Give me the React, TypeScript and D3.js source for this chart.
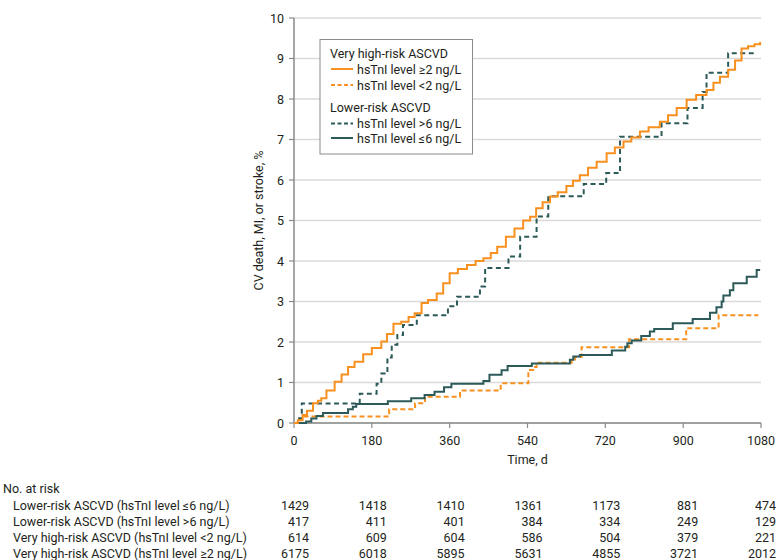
import React from "react";
import * as d3 from "d3";

const xTicks = [0, 180, 360, 540, 720, 900, 1080];
const yTicks = [0, 1, 2, 3, 4, 5, 6, 7, 8, 9, 10];

// [day, cumulative %]
const veryHighGe2: [number, number][] = [
  [0, 0], [9, 0.07], [20, 0.2], [30, 0.3], [44, 0.49], [55, 0.55], [63, 0.61], [75, 0.8],
  [94, 1.02], [110, 1.2], [125, 1.38], [140, 1.51], [160, 1.7], [180, 1.85], [202, 2.01],
  [215, 2.2], [230, 2.45], [248, 2.5], [265, 2.62], [279, 2.71], [295, 2.96], [310, 3.04],
  [330, 3.2], [345, 3.45], [360, 3.7], [379, 3.8], [400, 3.9], [420, 4.0], [438, 4.07],
  [455, 4.2], [470, 4.35], [490, 4.6], [510, 4.8], [530, 5.0], [546, 5.09], [560, 5.3],
  [575, 5.45], [592, 5.59], [610, 5.7], [630, 5.85], [645, 5.98], [661, 6.12], [680, 6.3],
  [700, 6.45], [723, 6.66], [742, 6.8], [762, 6.95], [780, 7.05], [800, 7.2], [820, 7.3],
  [846, 7.44], [865, 7.6], [885, 7.78], [908, 7.98], [930, 8.1], [954, 8.22], [970, 8.4],
  [985, 8.55], [1004, 8.72], [1020, 8.95], [1035, 9.25], [1050, 9.3], [1065, 9.35], [1078, 9.41],
];

const veryHighLt2: [number, number][] = [
  [0, 0], [8, 0.05], [13, 0.1], [18, 0.16], [220, 0.34], [280, 0.49], [303, 0.65], [384, 0.8],
  [478, 0.98], [542, 1.31], [553, 1.38], [561, 1.49], [642, 1.57], [650, 1.63], [665, 1.87],
  [775, 2.07], [907, 2.34], [982, 2.66], [1074, 2.66],
];

const lowerGt6: [number, number][] = [
  [0, 0], [12, 0.12], [18, 0.48], [152, 0.72], [191, 0.97], [202, 1.22], [216, 1.62],
  [226, 1.93], [239, 2.17], [252, 2.42], [284, 2.66], [356, 2.88], [377, 3.12], [430, 3.37],
  [442, 3.83], [496, 4.11], [523, 4.6], [561, 5.1], [588, 5.6], [670, 5.9], [722, 6.17],
  [754, 7.07], [850, 7.4], [910, 7.78], [945, 8.17], [954, 8.65], [1004, 9.13], [1070, 9.13],
];

const lowerLe6: [number, number][] = [
  [0, 0], [28, 0.04], [40, 0.11], [52, 0.17], [67, 0.25], [125, 0.34], [136, 0.4], [144, 0.47],
  [217, 0.54], [271, 0.61], [302, 0.69], [325, 0.77], [347, 0.88], [364, 0.97], [438, 1.04],
  [452, 1.19], [480, 1.3], [494, 1.41], [550, 1.47], [638, 1.56], [646, 1.64], [661, 1.68],
  [735, 1.79], [766, 1.88], [771, 1.97], [781, 2.04], [803, 2.15], [823, 2.26], [833, 2.32],
  [876, 2.46], [922, 2.57], [962, 2.72], [977, 2.86], [989, 3.0], [993, 3.15], [1008, 3.28],
  [1016, 3.45], [1047, 3.61], [1070, 3.78], [1078, 3.78],
];

const riskLabels = [
  "Lower-risk ASCVD (hsTnI level ≤6 ng/L)",
  "Lower-risk ASCVD (hsTnI level >6 ng/L)",
  "Very high-risk ASCVD (hsTnI level <2 ng/L)",
  "Very high-risk ASCVD (hsTnI level ≥2 ng/L)",
];
const riskLowerLe6 = [1429, 1418, 1410, 1361, 1173, 881, 474];
const riskLowerGt6 = [417, 411, 401, 384, 334, 249, 129];
const riskVeryHighLt2 = [614, 609, 604, 586, 504, 379, 221];
const riskVeryHighGe2 = [6175, 6018, 5895, 5631, 4855, 3721, 2012];

const ORANGE = "#f7901e";
const TEAL = "#2c5a58";
const TEXT = "#231f20";
const AXIS = "#8a8a8a";
const GRID = "#dadada";
const FONT = "Roboto, 'Liberation Sans', sans-serif";
const FS = 12.5;

export default function App() {
  const x = d3.scaleLinear().domain([0, 1080]).range([294, 761]);
  const y = d3.scaleLinear().domain([0, 10]).range([423, 18]);
  const line = d3
    .line<[number, number]>()
    .x((d) => x(d[0]))
    .y((d) => y(d[1]))
    .curve(d3.curveStepAfter);

  const series = [
    { data: veryHighLt2, color: ORANGE, dash: "5,3" },
    { data: lowerLe6, color: TEAL, dash: undefined },
    { data: lowerGt6, color: TEAL, dash: "5,3.5" },
    { data: veryHighGe2, color: ORANGE, dash: undefined },
  ];

  const riskRows = [riskLowerLe6, riskLowerGt6, riskVeryHighLt2, riskVeryHighGe2];

  const legendItems = [
    { kind: "title", text: "Very high-risk ASCVD", y: 57.5 },
    { kind: "item", text: "hsTnI level ≥2 ng/L", y: 73.5, color: ORANGE, dash: undefined },
    { kind: "item", text: "hsTnI level <2 ng/L", y: 89.5, color: ORANGE, dash: "4,2.5" },
    { kind: "title", text: "Lower-risk ASCVD", y: 112 },
    { kind: "item", text: "hsTnI level >6 ng/L", y: 128, color: TEAL, dash: "4,2.5" },
    { kind: "item", text: "hsTnI level ≤6 ng/L", y: 142.5, color: TEAL, dash: undefined },
  ];

  const rowY0 = 509.5;
  const rowStep = 16;

  return (
    <svg
      width={780}
      height={560}
      style={{ position: "absolute", left: 0, top: 0, background: "#fff" }}
      fontFamily={FONT}
    >
      {/* gridlines */}
      {yTicks.map((t) => (
        <line key={"g" + t} x1={x(0)} x2={x(1080)} y1={y(t)} y2={y(t)} stroke={GRID} strokeWidth={1.5} />
      ))}
      {/* y axis */}
      <line x1={x(0)} x2={x(0)} y1={y(0)} y2={y(10)} stroke={AXIS} strokeWidth={1.5} />
      {yTicks.map((t) => (
        <g key={"yt" + t}>
          <line x1={x(0) - 5} x2={x(0)} y1={y(t)} y2={y(t)} stroke={AXIS} strokeWidth={1.2} />
          <text x={x(0) - 10} y={y(t)} dy="0.36em" textAnchor="end" fontSize={FS} fill={TEXT}>
            {t}
          </text>
        </g>
      ))}
      {/* x axis */}
      <line x1={x(0)} x2={x(1080)} y1={y(0)} y2={y(0)} stroke={AXIS} strokeWidth={1.5} />
      {xTicks.map((t) => (
        <g key={"xt" + t}>
          <line x1={x(t)} x2={x(t)} y1={y(0)} y2={y(0) + 5} stroke={AXIS} strokeWidth={1.2} />
          <text x={x(t)} y={y(0) + 21.5} textAnchor="middle" fontSize={FS} fill={TEXT}>
            {t}
          </text>
        </g>
      ))}
      <text x={(x(0) + x(1080)) / 2} y={463.5} textAnchor="middle" fontSize={FS} fill={TEXT}>
        Time, d
      </text>
      <text
        transform={`translate(263, ${(y(0) + y(10)) / 2}) rotate(-90)`}
        textAnchor="middle"
        fontSize={FS}
        fill={TEXT}
      >
        CV death, MI, or stroke, %
      </text>

      {/* curves */}
      {series.map((s, i) => (
        <path
          key={"s" + i}
          d={line(s.data) || ""}
          fill="none"
          stroke={s.color}
          strokeWidth={2}
          strokeDasharray={s.dash}
        />
      ))}

      {/* legend */}
      <rect x={320} y={39.5} width={152.5} height={114.5} fill="#fff" stroke={AXIS} strokeWidth={1} />
      {legendItems.map((it, i) =>
        it.kind === "title" ? (
          <text key={"l" + i} x={330} y={it.y} fontSize={FS} fill={TEXT}>
            {it.text}
          </text>
        ) : (
          <g key={"l" + i}>
            <line x1={331} x2={353} y1={it.y - 4.5} y2={it.y - 4.5} stroke={it.color} strokeWidth={2} strokeDasharray={it.dash} />
            <text x={357} y={it.y} fontSize={FS} fill={TEXT}>
              {it.text}
            </text>
          </g>
        )
      )}

      {/* number at risk */}
      <text x={3} y={rowY0 - 16.5} fontSize={FS} fill={TEXT}>
        No. at risk
      </text>
      {riskLabels.map((lab, r) => (
        <g key={"r" + r}>
          <text x={13} y={rowY0 + r * rowStep} fontSize={FS} fill={TEXT}>
            {lab}
          </text>
          {riskRows[r].map((v, c) => (
            <text key={"c" + c} x={x(xTicks[c]) + 15} y={rowY0 + r * rowStep} textAnchor="end" fontSize={FS} fill={TEXT}>
              {v}
            </text>
          ))}
        </g>
      ))}
    </svg>
  );
}
